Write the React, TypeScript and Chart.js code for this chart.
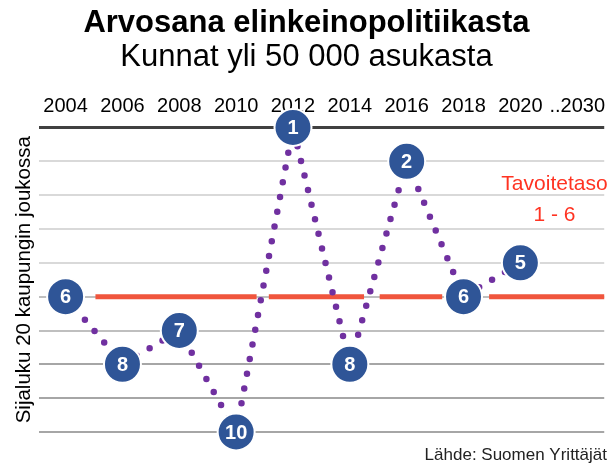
import React, { useEffect, useRef } from "react";
import { Chart, registerables } from "chart.js";

Chart.register(...registerables);

const years = [2004, 2006, 2008, 2010, 2012, 2014, 2016, 2018, 2020];
const ranks = [6, 8, 7, 10, 1, 8, 2, 6, 5];
const xTickValues = [2004, 2006, 2008, 2010, 2012, 2014, 2016, 2018, 2020, 2022];
const xTickLabels = ["2004", "2006", "2008", "2010", "2012", "2014", "2016", "2018", "2020", "..2030"];
const rankTicks = [1, 2, 3, 4, 5, 6, 7, 8, 9, 10];
const targetRank = 6;
const targetSegments = [
  [2005.05, 2010.72],
  [2011.15, 2014.5],
  [2015.05, 2017.25],
  [2018.9, 2022.95],
];
const titleText = "Arvosana elinkeinopolitiikasta";
const subtitleText = "Kunnat yli 50 000 asukasta";
const yTitle = "Sijaluku 20 kaupungin joukossa";
const targetLabel = ["Tavoitetaso", "1 - 6"];
const sourceText = "Lähde: Suomen Yrittäjät";

const FONT = "'Liberation Sans', Arial, sans-serif";

export default function App() {
  const ref = useRef<HTMLCanvasElement | null>(null);

  useEffect(() => {
    if (!ref.current) return;

    const targetData: { x: number; y: number | null }[] = [];
    targetSegments.forEach(([a, b], i) => {
      if (i > 0) targetData.push({ x: a - 0.001, y: null });
      targetData.push({ x: a, y: targetRank });
      targetData.push({ x: b, y: targetRank });
    });

    const textPlugin = {
      id: "texts",
      afterDatasetsDraw(chart: any) {
        const ctx = chart.ctx;
        const meta = chart.getDatasetMeta(0);
        ctx.save();
        ctx.fillStyle = "#ffffff";
        ctx.font = `bold 20px ${FONT}`;
        ctx.textAlign = "center";
        ctx.textBaseline = "middle";
        meta.data.forEach((pt: any, i: number) => {
          ctx.fillText(String(ranks[i]), pt.x, pt.y + 1);
        });
        const xs = chart.scales.x;
        const ys = chart.scales.y;
        ctx.fillStyle = "#FF3322";
        ctx.font = `21px ${FONT}`;
        ctx.fillText(targetLabel[0], xs.getPixelForValue(2021.2), ys.getPixelForValue(2.68));
        ctx.fillText(targetLabel[1], xs.getPixelForValue(2021.2), ys.getPixelForValue(3.6));
        ctx.fillStyle = "#222222";
        ctx.font = `17px ${FONT}`;
        ctx.textAlign = "right";
        ctx.fillText(sourceText, chart.width - 8, chart.height - 13);
        ctx.restore();
      },
    };

    const gridColor = (v: number) => {
      if (v === 1) return "#404040";
      if (v <= 5) return "#d9d9d9";
      if (v <= 7) return "#bfbfbf";
      return "#a6a6a6";
    };

    const chart = new Chart(ref.current, {
      type: "line",
      data: {
        datasets: [
          {
            data: years.map((y, i) => ({ x: y, y: ranks[i] })),
            borderColor: "#7030A0",
            borderWidth: 6.5,
            borderDash: [0, 15],
            borderCapStyle: "round",
            borderJoinStyle: "round",
            tension: 0,
            pointRadius: 18.5,
            pointBackgroundColor: "#2F5597",
            pointBorderColor: "#ffffff",
            pointBorderWidth: 2,
            clip: false,
          } as any,
          {
            data: targetData,
            borderColor: "#F0553D",
            borderWidth: 5,
            pointRadius: 0,
            spanGaps: false,
            clip: false,
          } as any,
        ],
      },
      options: {
        animation: false,
        responsive: false,
        layout: { autoPadding: false, padding: { left: 8, right: 10, top: 0, bottom: 36 } },
        plugins: {
          legend: { display: false },
          tooltip: { enabled: false },
          title: {
            display: true,
            text: titleText,
            color: "#000000",
            font: { family: FONT, size: 31, weight: "bold", lineHeight: 1.1 },
            padding: { top: 6, bottom: 0 },
          },
          subtitle: {
            display: true,
            text: subtitleText,
            color: "#000000",
            font: { family: FONT, size: 31, weight: "normal", lineHeight: 1.1 },
            padding: { top: 0, bottom: 10.3 },
          },
        },
        scales: {
          x: {
            type: "linear",
            position: "top",
            min: 2003.05,
            max: 2022.95,
            afterBuildTicks: (scale: any) => {
              scale.ticks = xTickValues.map((v) => ({ value: v }));
            },
            ticks: {
              color: "#000000",
              font: { family: FONT, size: 20 },
              padding: 9.5,
              maxRotation: 0,
              autoSkip: false,
              callback: (v: any) => {
                const i = xTickValues.indexOf(Number(v));
                return i >= 0 ? xTickLabels[i] : "";
              },
            },
            grid: { display: false, drawTicks: false },
            border: { display: false },
          },
          y: {
            type: "linear",
            reverse: true,
            min: 1,
            max: 10,
            afterBuildTicks: (scale: any) => {
              scale.ticks = rankTicks.map((v) => ({ value: v }));
            },
            ticks: { display: false },
            grid: {
              drawTicks: false,
              color: (c: any) => gridColor(c.tick ? c.tick.value : 0),
              lineWidth: (c: any) => (c.tick && c.tick.value === 1 ? 3 : 2),
            },
            border: { display: false },
            title: {
              display: true,
              text: yTitle,
              color: "#000000",
              font: { family: FONT, size: 20.5, lineHeight: 1.2 },
              padding: { top: 4, bottom: 2 },
            },
          },
        },
      } as any,
      plugins: [textPlugin],
    });

    return () => chart.destroy();
  }, []);

  return (
    <div style={{ position: "absolute", left: 0, top: 0, width: 615, height: 468, background: "#fff" }}>
      <canvas ref={ref} width={615} height={468} />
    </div>
  );
}
